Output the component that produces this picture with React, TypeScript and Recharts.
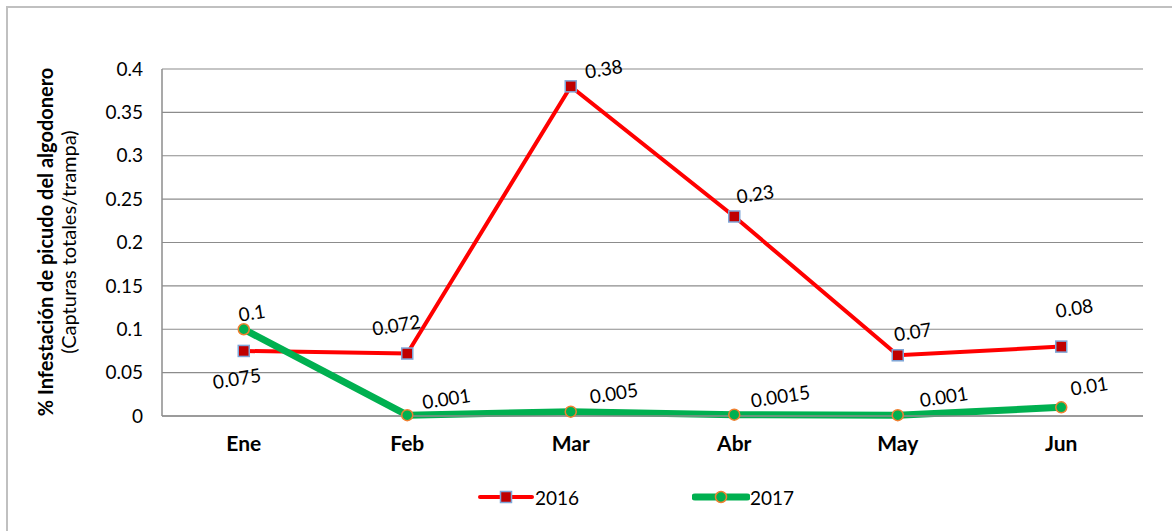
import React from "react";
import { CartesianGrid, LabelList, Line, LineChart, XAxis, YAxis } from "recharts";

const months = ["Ene", "Feb", "Mar", "Abr", "May", "Jun"];
const values2016 = [0.075, 0.072, 0.38, 0.23, 0.07, 0.08];
const values2017 = [0.1, 0.001, 0.005, 0.0015, 0.001, 0.01];
const labels2016 = ["0.075", "0.072", "0.38", "0.23", "0.07", "0.08"];
const labels2017 = ["0.1", "0.001", "0.005", "0.0015", "0.001", "0.01"];
const yTicks = [0, 0.05, 0.1, 0.15, 0.2, 0.25, 0.3, 0.35, 0.4];
const yTitle = "% Infestación de picudo del algodonero";
const ySubtitle = "(Capturas totales/trampa)";

// label offsets from each point (dx, dy of label center)
const off2016 = [
  [-7, 27],
  [-11, -29],
  [33, -18],
  [21, -23],
  [15, -24],
  [13, -39],
];
const off2017 = [
  [8, -17],
  [39, -17],
  [43, -19],
  [46, -19],
  [46, -19],
  [28, -22],
];

const data = months.map((m, i) => ({
  month: m,
  y2016: values2016[i],
  y2017: values2017[i],
}));

const FONT = "Lato, 'Open Sans', sans-serif";
const RED = "#FF0000";
const GREEN = "#00B050";

function SquareDot(props: any) {
  const { cx, cy } = props;
  if (cx == null || cy == null) return null;
  return <rect x={cx - 5.5} y={cy - 5.5} width={11} height={11} fill="#C00000" stroke="#7EA6D8" strokeWidth={1.5} />;
}

function RoundDot(props: any) {
  const { cx, cy } = props;
  if (cx == null || cy == null) return null;
  return <circle cx={cx} cy={cy} r={5.5} fill={GREEN} stroke="#F08030" strokeWidth={1.5} />;
}

function makeLabel(texts: string[], offsets: number[][]) {
  return (props: any) => {
    const { x, y, index } = props;
    const [dx, dy] = offsets[index];
    const lx = x + dx;
    const ly = y + dy;
    return (
      <text
        x={lx}
        y={ly}
        textAnchor="middle"
        dominantBaseline="central"
        transform={`rotate(-9 ${lx} ${ly})`}
        fontFamily={FONT}
        fontSize={19}
        fill="#000"
      >
        {texts[index]}
      </text>
    );
  };
}

// rotated axis title lines, centred on the plot's vertical middle
function TitleLine({ text, x, bold }: { text: string; x: number; bold?: boolean }) {
  return (
    <div
      style={{
        position: "absolute",
        left: x - 250,
        top: 242 - 13,
        width: 500,
        height: 26,
        lineHeight: "26px",
        textAlign: "center",
        transform: "rotate(-90deg)",
        fontFamily: FONT,
        fontSize: 20,
        fontWeight: bold ? "bold" : "normal",
        color: "#000",
        whiteSpace: "nowrap",
      }}
    >
      {text}
    </div>
  );
}

const legendItems = [
  { name: "2016", color: RED, width: 4, left: 477, marker: "square" },
  { name: "2017", color: GREEN, width: 7, left: 692, marker: "circle" },
];

function Legend() {
  return (
    <>
      {legendItems.map((it) => (
        <div
          key={it.name}
          style={{ position: "absolute", left: it.left, top: 484, display: "flex", alignItems: "center", fontFamily: FONT, fontSize: 19 }}
        >
          <svg width={58} height={26}>
            <line x1={3} y1={13} x2={55} y2={13} stroke={it.color} strokeWidth={it.width} strokeLinecap="round" />
            {it.marker === "square" ? (
              <rect x={23.5} y={7.5} width={11} height={11} fill="#C00000" stroke="#7EA6D8" strokeWidth={1.5} />
            ) : (
              <circle cx={29} cy={13} r={5.5} fill={GREEN} stroke="#F08030" strokeWidth={1.5} />
            )}
          </svg>
          <span>{it.name}</span>
        </div>
      ))}
    </>
  );
}

export default function App() {
  return (
    <div style={{ position: "absolute", left: 0, top: 0, width: 1172, height: 531, background: "#fff", overflow: "hidden" }}>
      <div
        style={{
          position: "absolute",
          left: 6,
          top: 6,
          width: 1170,
          height: 530,
          borderLeft: "2px solid #c0c0c0",
          borderTop: "2px solid #c0c0c0",
        }}
      />
      <div style={{ position: "absolute", left: 0, top: 0 }}>
        <LineChart width={1172} height={531} data={data} margin={{ top: 69, right: 29, left: 0, bottom: 60 }}>
          <CartesianGrid horizontal vertical={false} stroke="#8c8c8c" strokeWidth={1.2} />
          <XAxis
            dataKey="month"
            scale="band"
            axisLine={{ stroke: "#8c8c8c", strokeWidth: 1.5 }}
            tickLine={false}
            tickSize={0}
            tickMargin={20}
            height={55}
            tick={{ fontFamily: FONT, fontSize: 21, fontWeight: "bold", fill: "#000" }}
          />
          <YAxis
            width={162}
            domain={[0, 0.4]}
            ticks={yTicks}
            interval={0}
            axisLine={{ stroke: "#8c8c8c", strokeWidth: 1.5 }}
            tickLine={false}
            tickSize={0}
            tickMargin={19}
            tick={{ fontFamily: FONT, fontSize: 19, fill: "#000" }}
          />
          <Line
            dataKey="y2016"
            stroke={RED}
            strokeWidth={4}
            dot={<SquareDot />}
            activeDot={false}
            isAnimationActive={false}
          >
            <LabelList dataKey="y2016" content={makeLabel(labels2016, off2016)} />
          </Line>
          <Line
            dataKey="y2017"
            stroke={GREEN}
            strokeWidth={7}
            strokeLinejoin="round"
            dot={<RoundDot />}
            activeDot={false}
            isAnimationActive={false}
          >
            <LabelList dataKey="y2017" content={makeLabel(labels2017, off2017)} />
          </Line>
        </LineChart>
      </div>
      <TitleLine text={yTitle} x={45} bold />
      <TitleLine text={ySubtitle} x={68} />
      <Legend />
    </div>
  );
}
